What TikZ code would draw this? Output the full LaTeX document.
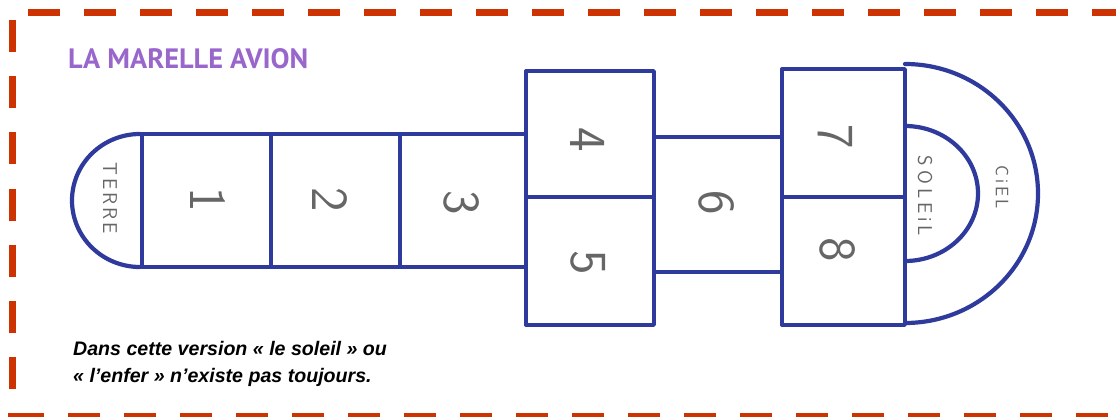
\documentclass[tikz,border=0pt]{standalone}
\usepackage{fontspec}
\newfontfamily\titlefont{PT Sans}
\newfontfamily\notefont{Liberation Sans}
\definecolor{framered}{HTML}{CC3300}
\definecolor{pen}{HTML}{2E3A9C}
\definecolor{titlepurple}{HTML}{9966CC}
\definecolor{pencil}{HTML}{666666}
\tikzset{
  frameline/.style={draw=framered, line width=7pt},
  penline/.style={draw=pen, line width=3.4pt, line cap=round, line join=round},
  arcline/.style={draw=pen, line width=4.2pt, line cap=round},
  digit/.style={text=pencil, font=\sffamily\fontsize{52}{52}\selectfont, rotate=-90, inner sep=0pt},
  word/.style={text=pencil, font=\sffamily\fontsize{20}{20}\selectfont, rotate=-90, inner sep=0pt},
  notetext/.style={anchor=base west, inner sep=0pt, font=\notefont\bfseries\itshape\fontsize{19.6}{19.6}\selectfont},
}
\begin{document}
\begin{tikzpicture}[x=1pt,y=1pt]
\useasboundingbox (0,0) rectangle (1116,416);
\fill[white] (0,0) rectangle (1116,416);
\clip (0,0) rectangle (1116,416);
% dashed frame
\draw[frameline, dash pattern=on 32pt off 24pt] (28,403.5) -- (1140,403.5);
\draw[frameline, dash pattern=on 32pt off 24.2pt] (12,396) -- (12,-10);
\draw[frameline, dash pattern=on 32pt off 24pt] (12,-0.5) -- (1140,-0.5);
\fill[framered] (8,-4) rectangle (12,3);
% title and note
\node[anchor=base west, inner sep=0pt, text=titlepurple] (title) at (68,348)
  {\resizebox{240pt}{20pt}{\titlefont\bfseries LA MARELLE AVION}};
\node[notetext] (note1) at (73,61) {Dans cette version « le soleil » ou};
\node[notetext] (note2) at (73,34) {« l’enfer » n’existe pas toujours.};
% hopscotch: squares 1-3
\draw[penline] (142,282) -- (526,282);
\draw[penline] (142,149) -- (526,149);
\draw[penline] (142,282) -- (142,149);
\draw[penline] (271,282) -- (271,149);
\draw[penline] (400,282) -- (400,149);
% squares 4-5
\draw[penline] (526,345) rectangle (654,91);
\draw[penline] (526,219) -- (654,219);
% square 6
\draw[penline] (654,279) -- (782,279);
\draw[penline] (654,144) -- (782,144);
% squares 7-8
\draw[penline] (782,347) rectangle (905,91);
\draw[penline] (782,219) -- (905,219);
% half circles
\draw[arcline] (140,282) arc[start angle=90, end angle=270, x radius=68pt, y radius=66.5pt];
\draw[arcline] (905,352) arc[start angle=90, end angle=-90, x radius=133pt, y radius=129.5pt];
\draw[arcline] (905,290) arc[start angle=90, end angle=-90, x radius=73pt, y radius=67.5pt];
% labels
\node[digit] (n1) at (208,216) {1};
\node[digit] (n2) at (330,216) {2};
\node[digit] (n3) at (462,213) {3};
\node[digit] (n4) at (588,276) {4};
\node[digit] (n5) at (588,153) {5};
\node[digit] (n6) at (717,213) {6};
\node[digit] (n7) at (835,279) {7};
\node[digit] (n8) at (838,166) {8};
\node[word] (terre) at (110,218) {T\kern3pt E\kern3pt R\kern3pt R\kern3pt E};
\node[word] (soleil) at (925,220) {S\kern4pt O\kern4pt L\kern4pt E\kern4pt i\kern4pt L};
\node[word, font=\sffamily\fontsize{18}{18}\selectfont] (ciel) at (1002,229) {C\kern3pt i\kern3pt E\kern3pt L};
\end{tikzpicture}
\end{document}
